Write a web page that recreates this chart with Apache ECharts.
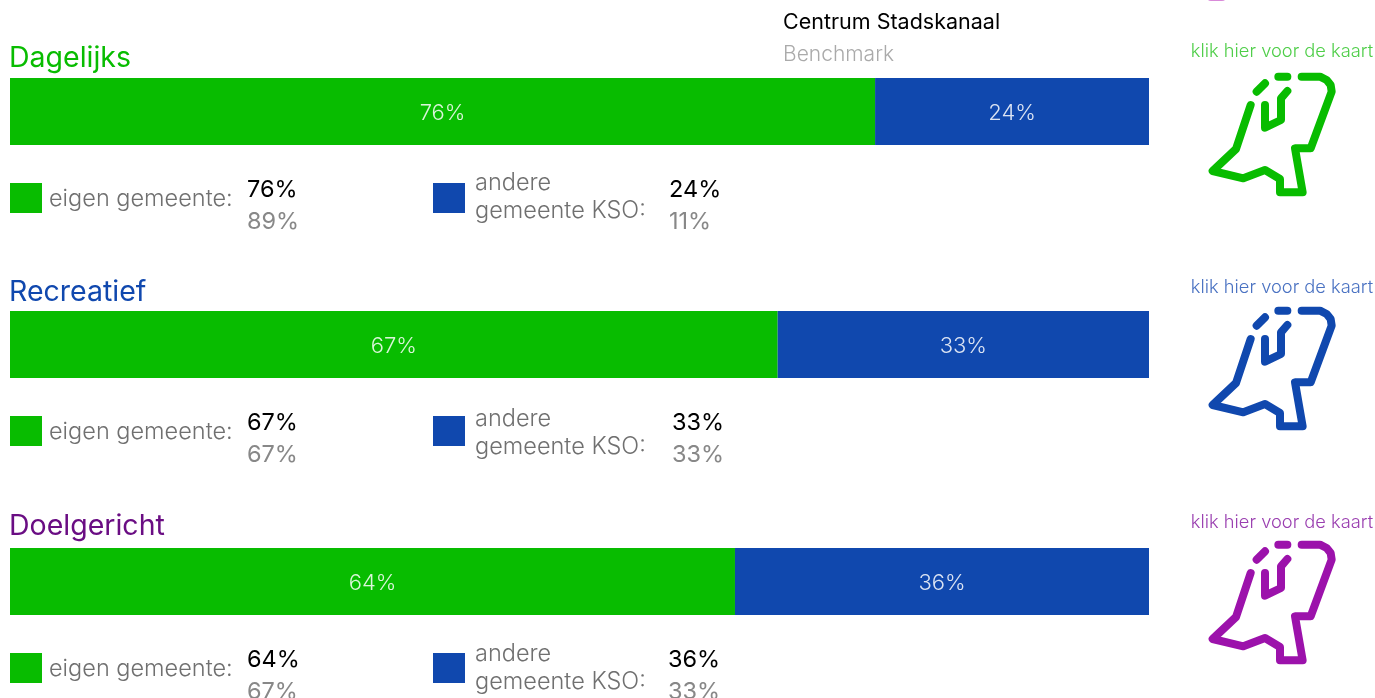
<!DOCTYPE html>
<html>
<head>
<meta charset="utf-8">
<title>Herkomst bezoekers</title>
<script src="https://cdn.jsdelivr.net/npm/echarts@6/dist/echarts.min.js"></script>
<style>
  html, body { margin: 0; background: #fff; overflow: hidden; }
  #main { width: 1375px; height: 698px; }
</style>
</head>
<body>
<div id="main"></div>
<script>
const categories = ['Dagelijks', 'Recreatief', 'Doelgericht'];
const eigenGemeente = [75.95, 67.4, 63.65];
const andereGemeente = [24.05, 32.6, 36.35];
const benchEigen = [89, 67, 67];
const benchAndere = [11, 33, 33];

const GREEN = '#08bc00';
const BLUE = '#1048ae';
const font = 'Inter';

// layout per block
const barTops = [78, 311, 548];
const titleY = [58, 292, 526];
const linkY = [52, 288, 523];
const iconY = [0, 234, 468];
const andereY = [183, 419, 654];
const titleColors = ['#08bc00', '#1048ae', '#6a0d83'];
const linkColors = ['#4fce49', '#4a72c2', '#9a3fb0'];
const iconColors = ['#08bc00', '#1048ae', '#9c12ab'];
const andereX = [669, 672, 668];

// the little map of the Netherlands, measured on the reference
const iconPaths = [
  [[212, 315], [168, 447], [98, 513], [190, 535], [255, 510], [300, 537], [300, 577], [368, 577], [345, 445], [392, 445], [455, 275], [452, 255], [440, 240], [420, 230], [365, 230]],
  [[230, 275], [255, 250]],
  [[295, 230], [322, 230]],
  [[255, 315], [255, 383], [303, 360], [303, 295], [322, 273]]
];

function txt(x, y, text, size, color, weight, align) {
  return {
    type: 'text', x: x, y: y, silent: true,
    style: {
      text: text, fill: color, fontFamily: font, fontSize: size,
      fontWeight: weight || 300, textAlign: align || 'left', textVerticalAlign: 'middle'
    }
  };
}

function rect(x, y, w, h, color) {
  return { type: 'rect', silent: true, shape: { x: x, y: y, width: w, height: h }, style: { fill: color } };
}

const grids = [], xAxes = [], yAxes = [], series = [], graphics = [];

categories.forEach(function (name, i) {
  grids.push({ left: 10, width: 1139, top: barTops[i], height: 67 });
  xAxes.push({ gridIndex: i, type: 'value', min: 0, max: 100, show: false });
  yAxes.push({ gridIndex: i, type: 'category', data: [name], show: false });

  [[eigenGemeente, GREEN, 'eigen gemeente'], [andereGemeente, BLUE, 'andere gemeente KSO']].forEach(function (s) {
    series.push({
      type: 'bar', name: s[2], stack: 'b' + i, xAxisIndex: i, yAxisIndex: i,
      barWidth: '100%', silent: true, animation: false,
      data: [s[0][i]],
      itemStyle: { color: s[1] },
      label: {
        show: true, position: 'inside', offset: [0, 2], color: 'rgba(255,255,255,0.85)',
        fontFamily: font, fontWeight: 300, fontSize: 22,
        formatter: function (p) { return Math.round(p.value) + '%'; }
      }
    });
  });

  const top = barTops[i];
  graphics.push(txt(9, titleY[i], name, 28.5, titleColors[i], 400));
  graphics.push(txt(1282, linkY[i], 'klik hier voor de kaart', 18.3, linkColors[i], 300, 'center'));

  // legend row under the bar
  graphics.push(rect(10, top + 105, 32, 30, GREEN));
  graphics.push(txt(49, top + 121, 'eigen gemeente:', 23.5, '#707070'));
  graphics.push(txt(247, top + 112, Math.round(eigenGemeente[i]) + '%', 23.5, '#000', 400));
  graphics.push(txt(247, top + 144, benchEigen[i] + '%', 23.5, '#888', 400));

  graphics.push(rect(433, top + 105, 32, 30, BLUE));
  graphics.push(txt(475, andereY[i], 'andere', 23.5, '#707070'));
  graphics.push(txt(475, andereY[i] + 28, 'gemeente KSO:', 23.5, '#707070'));
  graphics.push(txt(andereX[i], top + 112, Math.round(andereGemeente[i]) + '%', 23.5, '#000', 400));
  graphics.push(txt(andereX[i], top + 144, benchAndere[i] + '%', 23.5, '#888', 400));

  iconPaths.forEach(function (path) {
    graphics.push({
      type: 'polyline', silent: true,
      shape: { points: path.map(function (p) { return [1180 + p[0] / 3, iconY[i] + p[1] / 3]; }) },
      style: { stroke: iconColors[i], lineWidth: 8, fill: null, lineCap: 'round', lineJoin: 'round' }
    });
  });
});

graphics.push(txt(783, 23, 'Centrum Stadskanaal', 21.5, '#000', 400));
graphics.push(txt(783, 55, 'Benchmark', 21, '#aaa', 300));

// bottom of an icon cut off by the top of the page
graphics.push({
  type: 'polyline', silent: true,
  shape: { points: [[1211, -3], [1222, -3]] },
  style: { stroke: '#d98ad9', lineWidth: 8, fill: null, lineCap: 'round' }
});

const chart = echarts.init(document.getElementById('main'), null, { renderer: 'canvas' });
chart.setOption({
  animation: false,
  backgroundColor: '#fff',
  grid: grids,
  xAxis: xAxes,
  yAxis: yAxes,
  series: series,
  graphic: graphics
});
</script>
</body>
</html>
